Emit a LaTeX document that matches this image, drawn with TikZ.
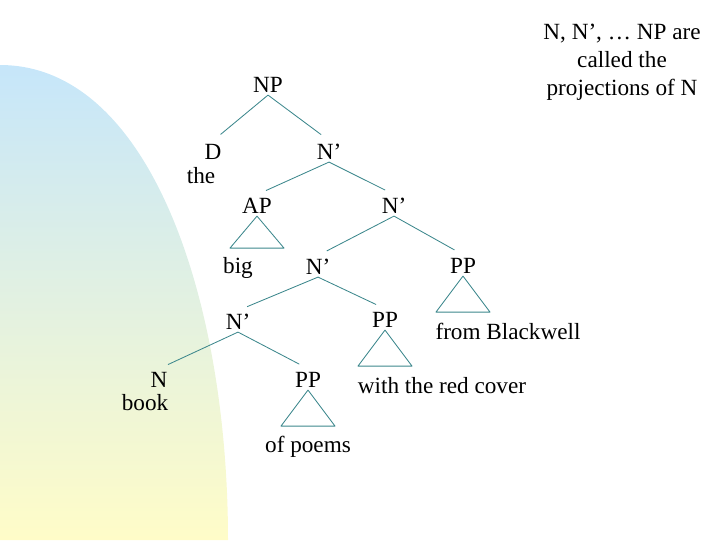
\documentclass[tikz,border=0pt]{standalone}
\usepackage{fontspec}
\setmainfont{Liberation Serif}
\usetikzlibrary{positioning}
\definecolor{branchcol}{RGB}{60,135,140}
\definecolor{washtop}{RGB}{198,230,250}
\definecolor{washbot}{RGB}{255,252,200}

\begin{document}
\begin{tikzpicture}[
    x=0.025cm, y=-0.025cm,
    cat/.style={anchor=base, inner sep=2pt, font=\fontsize{16.5}{20}\selectfont},
    word/.style={cat},
    branch/.style={draw=branchcol, line width=0.6pt, shorten >=7pt},
    roof/.style={draw=branchcol, line width=0.6pt, line join=round}
]
\useasboundingbox (0,0) rectangle (720,540);
% background wash
\shade[top color=washtop, bottom color=washbot]
    (0,65) .. controls (150,65) and (228,300) .. (228,540) -- (0,540) -- cycle;

% categories and words
\node[cat] (np) at (268,92) {NP};
\node[cat] (d) at (213,159) {D};
\node[word] (the) at (201,183) {the};
\node[cat] (nb1) at (329,159) {N’};
\node[cat] (ap) at (257,213) {AP};
\node[word] (big) at (238,273) {big};
\node[cat] (nb2) at (394,213) {N’};
\node[cat] (nb3) at (318,274) {N’};
\node[cat] (pp1) at (463,273) {PP};
\node[word] (blackwell) at (508,339) {from Blackwell};
\node[cat] (nb4) at (238,329) {N’};
\node[cat] (pp2) at (385,327) {PP};
\node[word] (cover) at (442,393) {with the red cover};
\node[cat] (n) at (159,387) {N};
\node[word] (book) at (145,410) {book};
\node[cat] (pp3) at (308,387) {PP};
\node[word] (poems) at (308,452) {of poems};

% branches
\draw[branch] (np.south) -- (d.north);
\draw[branch] (np.south) -- (nb1.north);
\draw[branch] (nb1.south) -- (ap.north);
\draw[branch] (nb1.south) -- (nb2.north);
\draw[branch] (nb2.south) -- (nb3.north);
\draw[branch] (nb2.south) -- (pp1.north);
\draw[branch] (nb3.south) -- (nb4.north);
\draw[branch] (nb3.south) -- (pp2.north);
\draw[branch] (nb4.south) -- (n.north);
\draw[branch] (nb4.south) -- (pp3.north);

% roofs
\draw[roof] (ap.south) -- ++(-27,32) -- ++(54,0) -- cycle;
\draw[roof] (pp1.south) -- ++(-27,36) -- ++(54,0) -- cycle;
\draw[roof] (pp2.south) -- ++(-27,36) -- ++(54,0) -- cycle;
\draw[roof] (pp3.south) -- ++(-27,36) -- ++(54,0) -- cycle;

% note
\node[anchor=north, align=center, inner sep=0pt, font=\fontsize{16.5}{20}\selectfont]
    (note) at (622,24) {N, N’, … NP are\\called the\\projections of N};
\end{tikzpicture}
\end{document}
